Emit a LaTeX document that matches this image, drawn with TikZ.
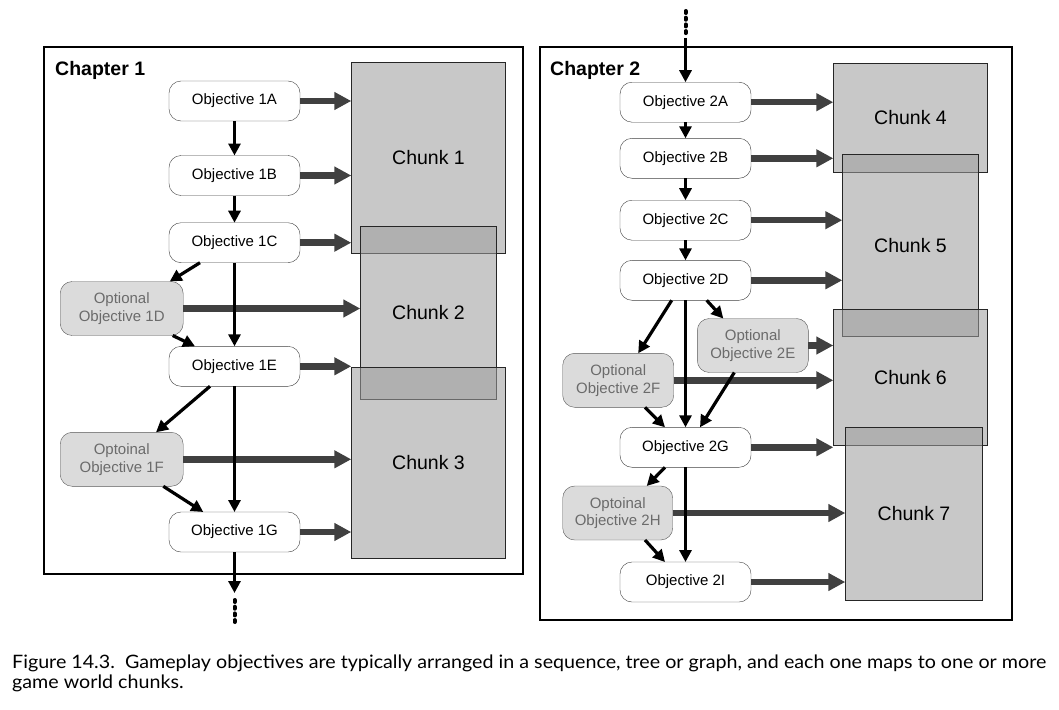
\documentclass[tikz,border=0pt]{standalone}
\usepackage{fontspec}
\usepackage{graphicx}
\setmainfont{Liberation Sans}
\newfontfamily\captionfnt{Lato}
\usetikzlibrary{arrows.meta}
\definecolor{gline}{HTML}{404040}
\definecolor{chunkfill}{RGB}{157,157,157}
\newcommand\capsz{\captionfnt\fontsize{18.5}{20}\selectfont}
\newlength\caplen
\begin{document}
\settowidth\caplen{\capsz Figure 14.3.\ \ Gameplay objectives are typically arranged in a sequence, tree or graph, and each one maps to one or more}%
\pgfmathsetmacro\capsx{1034/\caplen}%
\begin{tikzpicture}[x=1pt,y=-1pt,
  frame/.style={draw=black, line width=2.2pt},
  obj/.style={draw=black!75, fill=white, rounded corners=12pt, minimum width=131pt, minimum height=40pt, inner sep=0pt, outer sep=0pt, font=\fontsize{15}{18}\selectfont},
  opt/.style={draw=black!65, fill=black!14, text=black!58, rounded corners=12pt, minimum width=123pt, minimum height=54pt, align=center, inner sep=0pt, outer sep=0pt, font=\fontsize{15}{17.7}\selectfont},
  chunk/.style={draw=black!85, line width=1pt, fill=chunkfill, fill opacity=0.56, text opacity=1, inner sep=0pt, outer sep=0pt, font=\fontsize{19.5}{22}\selectfont},
  garrow/.style={draw=gline, line width=6.5pt, -{Triangle[length=17pt,width=17pt]}},
  barrow/.style={draw=black, line width=3.2pt, -{Triangle[length=12pt,width=12pt]}},
  dotl/.style={draw=black, line width=4pt, dash pattern=on 2pt off 4.7pt, line cap=round},
  chap/.style={anchor=base west, inner sep=0pt, font=\bfseries\fontsize{19.5}{22}\selectfont}
]
\useasboundingbox (0,0) rectangle (1059,709);

% frames
\draw[frame] (44,47) rectangle (523,574);
\draw[frame] (540,47) rectangle (1012,620);
\node[chap] (t1) at (55,75) {Chapter 1};
\node[chap] (t2) at (550,75) {Chapter 2};

% chunks
\node[chunk, minimum width=154.4pt, minimum height=191pt] (c1) at (428.5,157.8) {Chunk 1};
\node[chunk, minimum width=136.4pt, minimum height=173pt] (c2) at (428.5,312.8) {Chunk 2};
\node[chunk, minimum width=154.4pt, minimum height=191pt] (c3) at (428.5,462.8) {Chunk 3};
\node[chunk, minimum width=154.4pt, minimum height=109pt] (c4) at (910.5,117.8) {Chunk 4};
\node[chunk, minimum width=136.4pt, minimum height=181.7pt] (c5) at (910.5,245.2) {Chunk 5};
\node[chunk, minimum width=154.4pt, minimum height=136pt] (c6) at (910.5,377.3) {Chunk 6};
\node[chunk, minimum width=137.4pt, minimum height=172.7pt] (c7) at (914,513.7) {Chunk 7};

% chapter 1 objectives
\node[obj] (o1A) at (234.5,101) {Objective 1A};
\node[obj] (o1B) at (234.5,175.5) {Objective 1B};
\node[obj] (o1C) at (234.5,242.7) {Objective 1C};
\node[opt] (o1D) at (121.7,308.5) {Optional\\Objective 1D};
\node[obj] (o1E) at (234.5,366.3) {Objective 1E};
\node[opt] (o1F) at (121.7,459.3) {Optoinal\\Objective 1F};
\node[obj] (o1G) at (234.5,532) {Objective 1G};

% chapter 2 objectives
\node[obj] (o2A) at (685.5,102.2) {Objective 2A};
\node[obj] (o2B) at (685.5,158.3) {Objective 2B};
\node[obj] (o2C) at (685.5,220.2) {Objective 2C};
\node[obj] (o2D) at (685.5,280.3) {Objective 2D};
\node[opt, minimum width=111pt] (o2E) at (752.8,345.5) {Optional\\Objective 2E};
\node[opt, minimum width=111pt] (o2F) at (618.2,380.3) {Optional\\Objective 2F};
\node[obj] (o2G) at (685.5,447.3) {Objective 2G};
\node[opt, minimum width=110pt] (o2H) at (617.7,513) {Optoinal\\Objective 2H};
\node[obj] (o2I) at (685.5,582) {Objective 2I};

% gray mapping arrows
\draw[garrow] (o1A.east) -- (o1A.east -| c1.west);
\draw[garrow] (o1B.east) -- (o1B.east -| c1.west);
\draw[garrow] (o1C.east) -- (o1C.east -| c1.west);
\draw[garrow] (o1D.east) -- (o1D.east -| c2.west);
\draw[garrow] (o1E.east) -- (o1E.east -| c3.west);
\draw[garrow] (o1F.east) -- (o1F.east -| c3.west);
\draw[garrow] (o1G.east) -- (o1G.east -| c3.west);
\draw[garrow] (o2A.east) -- (o2A.east -| c4.west);
\draw[garrow] (o2B.east) -- (o2B.east -| c4.west);
\draw[garrow] (o2C.east) -- (o2C.east -| c5.west);
\draw[garrow] (o2D.east) -- (o2D.east -| c5.west);
\draw[garrow] (o2E.east) -- (o2E.east -| c6.west);
\draw[garrow] (o2F.east) -- (o2F.east -| c6.west);
\draw[garrow] (o2G.east) -- (o2G.east -| c6.west);
\draw[garrow] (o2H.east) -- (o2H.east -| c7.west);
\draw[garrow] (o2I.east) -- (o2I.east -| c7.west);

% chapter 1 flow
\draw[barrow] (o1A.south) -- (o1B.north);
\draw[barrow] (o1B.south) -- (o1C.north);
\draw[barrow] (o1C.south) -- (o1E.north);
\draw[barrow] (o1E.south) -- (o1G.north);
\draw[barrow] ([xshift=-34.5pt]o1C.south) -- ([xshift=48pt]o1D.north);
\draw[barrow] ([xshift=51pt]o1D.south) -- ([xshift=-39.5pt]o1E.north);
\draw[barrow] ([xshift=-24.5pt]o1E.south) -- ([xshift=34.3pt]o1F.north);
\draw[barrow] ([xshift=41.6pt]o1F.south) -- ([xshift=-31.2pt]o1G.north);
\coordinate (e1) at (234.5,593);
\coordinate (d1a) at (234.5,600);
\coordinate (d1b) at (234.5,622);
\draw[barrow] (o1G.south) -- (e1);
\draw[dotl] (d1a) -- (d1b);

% chapter 2 flow
\coordinate (d2a) at (685.5,11);
\coordinate (d2b) at (685.5,35);
\coordinate (s2) at (685.5,38);
\draw[dotl] (d2a) -- (d2b);
\draw[barrow] (s2) -- (o2A.north);
\draw[barrow] (o2A.south) -- (o2B.north);
\draw[barrow] (o2B.south) -- (o2C.north);
\draw[barrow] (o2C.south) -- (o2D.north);
\draw[barrow] (o2D.south) -- (o2G.north);
\draw[barrow] (o2G.south) -- (o2I.north);
\draw[barrow] ([xshift=-13.8pt]o2D.south) -- ([xshift=20pt]o2F.north);
\draw[barrow] ([xshift=21.2pt]o2D.south) -- ([xshift=-29.5pt]o2E.north);
\draw[barrow] ([xshift=-18.5pt]o2E.south) -- ([xshift=14.5pt]o2G.north);
\draw[barrow] ([xshift=26.8pt]o2F.south) -- ([xshift=-20.5pt]o2G.north);
\draw[barrow] ([xshift=-20.5pt]o2G.south) -- ([xshift=29pt]o2H.north);
\draw[barrow] ([xshift=27.3pt]o2H.south) -- ([xshift=-20.5pt]o2I.north);

% caption
\node[anchor=base west, inner sep=0pt] (cap1) at (12,668) {\scalebox{\capsx}[1]{\capsz Figure 14.3.\ \ Gameplay objectives are typically arranged in a sequence, tree or graph, and each one maps to one or more}};
\node[anchor=base west, inner sep=0pt] (cap2) at (12,688) {\scalebox{\capsx}[1]{\capsz game world chunks.}};
\end{tikzpicture}
\end{document}
